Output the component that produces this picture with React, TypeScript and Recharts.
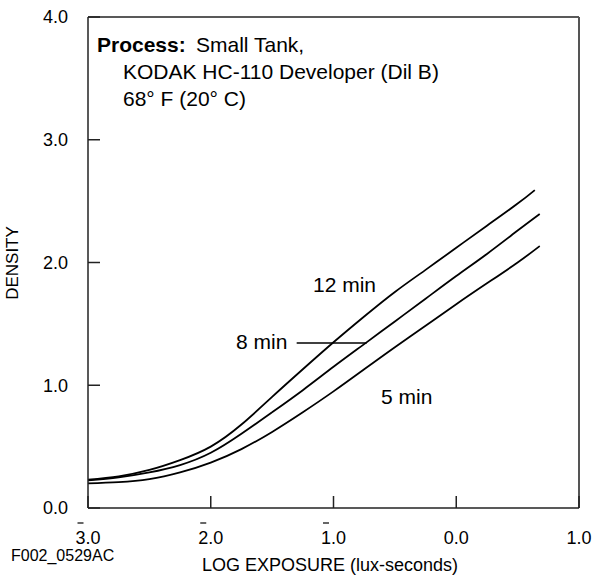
import React from "react";
import { LineChart, Line, XAxis, YAxis, ReferenceLine } from "recharts";

// log exposure (x) and density (y)
const X_12 = [-3, -2.75, -2.5, -2.25, -2, -1.75, -1.5, -1.25, -1, -0.75, -0.5, -0.25, 0, 0.25, 0.5, 0.64];
const D_12 = [0.23, 0.258, 0.31, 0.39, 0.5, 0.68, 0.905, 1.13, 1.35, 1.56, 1.76, 1.94, 2.12, 2.3, 2.48, 2.59];

const X_8 = [-3, -2.75, -2.5, -2.25, -2, -1.75, -1.5, -1.25, -1, -0.75, -0.5, -0.25, 0, 0.25, 0.5, 0.68];
const D_8 = [0.225, 0.25, 0.29, 0.35, 0.45, 0.605, 0.78, 0.96, 1.15, 1.335, 1.52, 1.705, 1.89, 2.07, 2.26, 2.395];

const X_5 = [-3, -2.75, -2.5, -2.25, -2, -1.75, -1.5, -1.25, -1, -0.75, -0.5, -0.25, 0, 0.25, 0.5, 0.68];
const D_5 = [0.2, 0.21, 0.235, 0.29, 0.37, 0.48, 0.62, 0.78, 0.95, 1.13, 1.31, 1.485, 1.66, 1.83, 2.0, 2.134];

const X_TICKS = [-3, -2, -1, 0, 1];
const Y_TICKS = [0, 1, 2, 3, 4];

const FONT = "'Liberation Sans', Arial, Helvetica, sans-serif";
const INK = "#000";

const toRows = (xs: number[], ds: number[]) => xs.map((x, i) => ({ x, d: ds[i] }));

const series = [
  { name: "12 min", data: toRows(X_12, D_12) },
  { name: "8 min", data: toRows(X_8, D_8) },
  { name: "5 min", data: toRows(X_5, D_5) },
];

// negative characteristics get an overbar on the first digit (bar-3.0 etc.)
function XTick(props: any) {
  const { x, y, payload } = props;
  const v: number = payload.value;
  const label = `${Math.abs(v).toFixed(1)}`;
  return (
    <g>
      <text x={x} y={y + 36} textAnchor="middle" fontFamily={FONT} fontSize={18} fill={INK}>
        {label}
      </text>
      {v < 0 && <line x1={x - 10.5} x2={x - 4.5} y1={y + 15} y2={y + 15} stroke={INK} strokeWidth={1.2} />}
    </g>
  );
}

function YTick(props: any) {
  const { x, y, payload } = props;
  return (
    <text x={x - 20} y={y} dy="0.35em" textAnchor="end" fontFamily={FONT} fontSize={18} fill={INK}>
      {payload.value.toFixed(1)}
    </text>
  );
}

const TICK_X_LEN = 12 / 122.7;
const TICK_Y_LEN = 12 / 122.75;

export default function App() {
  return (
    <div style={{ position: "absolute", left: 0, top: 0, background: "#fff" }}>
      <LineChart width={607} height={577} margin={{ top: 17, right: 28, left: 0, bottom: 0 }}>
        <XAxis
          dataKey="x"
          type="number"
          domain={[-3, 1]}
          ticks={X_TICKS}
          allowDuplicatedCategory={false}
          height={69}
          tickLine={false}
          tickSize={0}
          tickMargin={0}
          axisLine={{ stroke: "#222", strokeWidth: 1.5 }}
          tick={<XTick />}
        />
        <YAxis
          type="number"
          domain={[0, 4]}
          ticks={Y_TICKS}
          width={88}
          tickLine={false}
          tickSize={0}
          tickMargin={0}
          axisLine={{ stroke: "#222", strokeWidth: 1.5 }}
          tick={<YTick />}
        />
        <ReferenceLine y={4} stroke="#222" strokeWidth={1.5} ifOverflow="visible" />
        <ReferenceLine x={1} stroke="#555" strokeWidth={2} ifOverflow="visible" />
        {X_TICKS.map((v) => (
          <ReferenceLine key={"xt" + v} segment={[{ x: v, y: 0 }, { x: v, y: TICK_Y_LEN }]} stroke="#222" strokeWidth={1.5} />
        ))}
        {Y_TICKS.map((v) => (
          <ReferenceLine key={"yt" + v} segment={[{ x: -3, y: v }, { x: -3 + TICK_X_LEN, y: v }]} stroke="#222" strokeWidth={1.5} />
        ))}
        {series.map((s) => (
          <Line
            key={s.name}
            data={s.data}
            dataKey="d"
            type="natural"
            stroke={INK}
            strokeWidth={1.8}
            dot={false}
            isAnimationActive={false}
          />
        ))}
        {/* leader for the 8 min label */}
        <ReferenceLine segment={[{ x: -1.3, y: 1.344 }, { x: -0.73, y: 1.344 }]} stroke={INK} strokeWidth={1.5} />

        <g fontFamily={FONT} fill={INK}>
          <text x={97} y={52} fontSize={21}>
            <tspan fontWeight="bold">Process:</tspan>
            <tspan x={196}>Small Tank,</tspan>
          </text>
          <text x={123} y={79} fontSize={21}>KODAK HC-110 Developer (Dil B)</text>
          <text x={123} y={106} fontSize={21}>68° F (20° C)</text>

          <text x={313} y={292} fontSize={21}>12 min</text>
          <text x={236} y={349} fontSize={21}>8 min</text>
          <text x={381} y={404} fontSize={21}>5 min</text>

          <text x={12} y={263} fontSize={17} textAnchor="middle" dy="0.35em" transform="rotate(-90 12 263)">
            DENSITY
          </text>
          <text x={330} y={571} fontSize={18} textAnchor="middle">LOG EXPOSURE (lux-seconds)</text>
          <text x={11} y={561} fontSize={16}>F002_0529AC</text>
        </g>
      </LineChart>
    </div>
  );
}
